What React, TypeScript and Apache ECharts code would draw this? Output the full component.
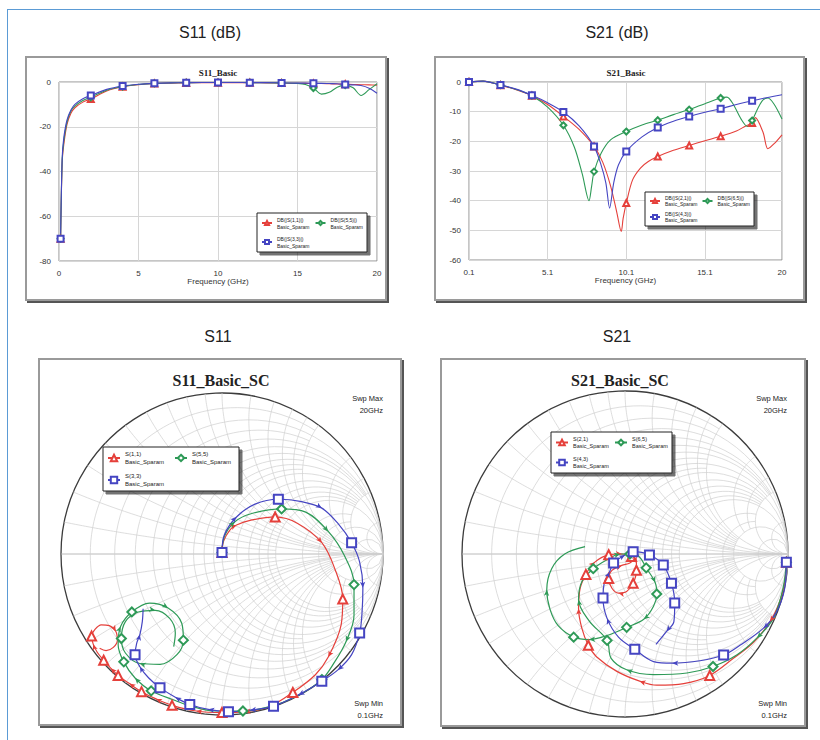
import { useEffect, useRef } from "react";
import * as echarts from "echarts";

const RED = "#e5403b";
const GREEN = "#2e9a57";
const BLUE = "#4545c2";
const SANS = "Liberation Sans, Arial, sans-serif";
const SERIF = "Liberation Serif, Times New Roman, serif";

// ---------- S11 (dB) ----------
const S11_FREQ = [0.1, 0.2, 0.3, 0.5, 0.75, 1, 1.5, 2, 3, 4, 5, 6, 7, 8, 9, 10, 11, 12, 13, 14, 15, 15.5, 16, 16.5, 17, 17.5, 18, 18.5, 19, 19.5, 20];
const S11_DB_RED = [-70, -36, -28, -19, -14, -11.5, -9, -7.6, -4, -2.1, -1.2, -0.7, -0.5, -0.4, -0.3, -0.3, -0.3, -0.3, -0.4, -0.5, -0.6, -0.6, -0.7, -0.7, -0.8, -0.9, -1.0, -1.1, -1.2, -1.3, -1.4];
const S11_DB_GREEN = [-70, -35, -26.5, -18, -13, -10.8, -8.3, -6.8, -3.7, -2.0, -1.1, -0.6, -0.4, -0.3, -0.2, -0.2, -0.2, -0.3, -0.3, -0.4, -0.6, -1.1, -2.7, -5.4, -4.6, -2.3, -1.4, -2.6, -6.0, -3.4, -0.8];
const S11_DB_BLUE = [-70, -34, -25, -17, -12.5, -10, -7.5, -6, -3.3, -1.8, -1.0, -0.6, -0.4, -0.3, -0.2, -0.2, -0.2, -0.3, -0.3, -0.4, -0.5, -0.5, -0.6, -0.6, -0.7, -0.8, -1.1, -1.3, -1.6, -2.8, -5.0];
const S11_MARKER_FREQ = [0.1, 2, 4, 6, 8, 10, 12, 14, 16, 18];

// ---------- S21 (dB) ----------
const S21_FREQ_RED = [0.1, 1, 2.1, 3.1, 4.1, 5.1, 6.1, 7.1, 8.05, 8.6, 9.1, 9.5, 9.78, 9.9, 10.1, 10.5, 11, 11.5, 12.1, 13.1, 14.1, 15.1, 16.1, 17.1, 17.7, 18.1, 18.3, 18.8, 19.1, 19.5, 20];
const S21_DB_RED = [0, 0.3, -1.1, -2.6, -4.6, -7.6, -11.6, -16, -21.7, -27, -35, -44, -50.4, -46, -40.8, -33, -29, -26.8, -25.1, -23, -21.4, -19.8, -18.3, -16.5, -14.8, -13.8, -12, -17, -22.5, -20.8, -17.8];
const S21_FREQ_GREEN = [0.1, 1, 2.1, 3.1, 4.1, 5.1, 6.1, 6.8, 7.3, 7.73, 7.9, 8.05, 8.5, 9.1, 10.1, 11.1, 12.1, 13.1, 14.1, 15.1, 16.1, 16.5, 16.9, 17.4, 17.8, 18.1, 18.5, 18.8, 19.1, 19.5, 20];
const S21_DB_GREEN = [0, 0.3, -1, -2.5, -4.6, -8.5, -14.6, -22, -31, -40, -35, -30.2, -24, -19.5, -16.7, -14.5, -12.9, -11, -9.3, -7.3, -5.4, -5.1, -7.5, -12.5, -15, -13, -8.5, -6, -5.4, -7.5, -12.5];
const S21_FREQ_BLUE = [0.1, 1, 2.1, 3.1, 4.1, 5.1, 6.1, 7.1, 8.05, 8.5, 8.8, 9.04, 9.3, 9.6, 10.1, 11.1, 12.1, 13.1, 14.1, 15.1, 16.1, 17.1, 18.1, 19.1, 20];
const S21_DB_BLUE = [0, 0.3, -1, -2.4, -4.5, -7, -10.1, -14.8, -21.7, -28, -34, -42.5, -34, -28, -23.4, -18.5, -15.3, -13.2, -11.6, -10.2, -9, -7.6, -6.3, -5.2, -4.3];
const S21_MARKER_FREQ = [0.1, 2.1, 4.1, 6.1, 8.05, 10.1, 12.1, 14.1, 16.1, 18.1];
const S21_X_TICKS = [0.1, 5.1, 10.1, 15.1, 20];

// ---------- S11 Smith (reflection coefficient, re / im) ----------
const SC11_RED = [[0, 0.01], [0.01, 0.08], [0.05, 0.15], [0.09, 0.18], [0.18, 0.21], [0.33, 0.23], [0.47, 0.19], [0.62, 0.07], [0.7, -0.09], [0.75, -0.28], [0.74, -0.44], [0.66, -0.64], [0.58, -0.75], [0.44, -0.86], [0.29, -0.95], [0.14, -0.98], [0, -0.985], [-0.16, -0.975], [-0.31, -0.94], [-0.41, -0.9], [-0.5, -0.855], [-0.575, -0.805], [-0.645, -0.755], [-0.69, -0.71], [-0.735, -0.66], [-0.775, -0.61], [-0.8, -0.56], [-0.81, -0.51], [-0.79, -0.47], [-0.75, -0.44], [-0.7, -0.445], [-0.66, -0.48], [-0.65, -0.535], [-0.675, -0.58], [-0.72, -0.6], [-0.76, -0.585]];
const SC11_RED_MARKS = [0, 5, 9, 13, 16, 18, 20, 22, 24, 27];
const SC11_GREEN = [[0, 0.01], [0.015, 0.11], [0.08, 0.2], [0.18, 0.25], [0.37, 0.28], [0.52, 0.26], [0.66, 0.14], [0.76, -0.01], [0.82, -0.19], [0.82, -0.38], [0.77, -0.545], [0.7, -0.67], [0.62, -0.78], [0.47, -0.88], [0.29, -0.95], [0.13, -0.975], [-0.04, -0.975], [-0.21, -0.94], [-0.29, -0.91], [-0.44, -0.85], [-0.54, -0.77], [-0.61, -0.67], [-0.645, -0.565], [-0.63, -0.45], [-0.56, -0.36], [-0.45, -0.305], [-0.335, -0.335], [-0.25, -0.43], [-0.24, -0.535], [-0.28, -0.625], [-0.385, -0.685], [-0.51, -0.68], [-0.6, -0.615], [-0.625, -0.525], [-0.6, -0.42], [-0.52, -0.36], [-0.415, -0.35], [-0.325, -0.4], [-0.29, -0.49], [-0.3, -0.575]];
const SC11_GREEN_MARKS = [0, 4, 8, 12, 15, 19, 21, 24, 28, 33];
const SC11_BLUE = [[0, 0.01], [0.015, 0.12], [0.09, 0.23], [0.205, 0.31], [0.35, 0.34], [0.495, 0.325], [0.62, 0.285], [0.72, 0.19], [0.805, 0.07], [0.855, -0.05], [0.875, -0.21], [0.87, -0.36], [0.855, -0.49], [0.805, -0.625], [0.72, -0.72], [0.62, -0.79], [0.475, -0.875], [0.32, -0.945], [0.175, -0.97], [0.04, -0.98], [-0.085, -0.965], [-0.2, -0.935], [-0.29, -0.89], [-0.385, -0.83], [-0.455, -0.77], [-0.51, -0.7], [-0.54, -0.625], [-0.53, -0.555], [-0.51, -0.5], [-0.495, -0.42], [-0.49, -0.34]];
const SC11_BLUE_MARKS = [0, 4, 8, 12, 15, 17, 19, 21, 23, 26];

// ---------- S21 Smith ----------
const SC21_RED = [[0.99, -0.05], [0.98, -0.17], [0.95, -0.29], [0.89, -0.415], [0.79, -0.54], [0.665, -0.64], [0.52, -0.745], [0.36, -0.795], [0.195, -0.805], [0.09, -0.78], [-0.05, -0.72], [-0.175, -0.63], [-0.225, -0.56], [-0.265, -0.455], [-0.285, -0.335], [-0.275, -0.21], [-0.24, -0.125], [-0.185, -0.05], [-0.1, -0.005], [-0.02, 0], [0.04, -0.015], [0.07, -0.055], [0.07, -0.1], [0.05, -0.18], [0.01, -0.23], [-0.04, -0.24], [-0.08, -0.21], [-0.1, -0.15], [-0.08, -0.1], [-0.02, -0.07], [0.03, -0.055], [0.06, -0.03]];
const SC21_RED_MARKS = [0, 6, 12, 16, 18, 20, 22, 23, 27];
const SC21_GREEN = [[0.99, -0.05], [0.97, -0.21], [0.91, -0.395], [0.81, -0.515], [0.685, -0.62], [0.54, -0.69], [0.38, -0.73], [0.175, -0.74], [0.01, -0.71], [-0.085, -0.64], [-0.11, -0.53], [-0.22, -0.41], [-0.285, -0.28], [-0.265, -0.17], [-0.195, -0.09], [-0.11, -0.035], [-0.03, 0], [0.03, 0], [0.09, -0.02], [0.13, -0.085], [0.185, -0.175], [0.195, -0.245], [0.175, -0.32], [0.115, -0.4], [0.01, -0.45], [-0.11, -0.5], [-0.22, -0.525], [-0.315, -0.51], [-0.41, -0.44], [-0.46, -0.34], [-0.48, -0.22], [-0.45, -0.09], [-0.37, 0], [-0.245, 0.045]];
const SC21_GREEN_MARKS = [0, 5, 10, 14, 17, 19, 21, 24, 27];
const SC21_BLUE = [[0.99, -0.05], [0.98, -0.21], [0.93, -0.355], [0.85, -0.455], [0.705, -0.56], [0.605, -0.62], [0.46, -0.655], [0.29, -0.67], [0.175, -0.66], [0.06, -0.585], [-0.04, -0.51], [-0.11, -0.395], [-0.135, -0.27], [-0.125, -0.17], [-0.095, -0.11], [-0.07, -0.055], [0, -0.006], [0.05, 0.014], [0.15, -0.006], [0.235, -0.068], [0.285, -0.18], [0.305, -0.3], [0.3, -0.415], [0.255, -0.475], [0.19, -0.555]];
const SC21_BLUE_MARKS = [0, 5, 9, 12, 15, 17, 18, 19, 20, 21];

// Smith chart grid: [normalized value, extent limit]
const SMITH_R = [[0.1, 2], [0.2, 1e9], [0.3, 2], [0.4, 5], [0.5, 1e9], [0.6, 5], [0.7, 2], [0.8, 5], [0.9, 2], [1, 1e9], [1.2, 5], [1.4, 5], [1.6, 5], [1.8, 5], [2, 1e9], [3, 5], [4, 5], [5, 1e9], [10, 1e9]];
const SMITH_X = [[0.1, 2], [0.2, 1e9], [0.3, 2], [0.4, 5], [0.5, 1e9], [0.6, 5], [0.7, 2], [0.8, 5], [0.9, 2], [1, 1e9], [1.2, 5], [1.4, 5], [1.6, 5], [1.8, 5], [2, 1e9], [3, 5], [4, 5], [5, 1e9], [10, 1e9]];

const PANELS = [
  { left: 25, top: 56, width: 362, height: 245 },
  { left: 434, top: 56, width: 371, height: 245 },
  { left: 38, top: 358, width: 364, height: 368 },
  { left: 440, top: 358, width: 366, height: 369 },
];

function gamma(r: number, x: number) {
  const den = (r + 1) * (r + 1) + x * x;
  return [(r * r + x * x - 1) / den, (2 * x) / den];
}

function smithGridData() {
  const d: number[][] = [[2, 0, 0], [3, 0, 0]];
  SMITH_R.forEach(([v, lim]) => d.push([0, v, lim]));
  SMITH_X.forEach(([v, lim]) => {
    d.push([1, v, lim]);
    d.push([1, -v, lim]);
  });
  return d;
}

function smithGridSeries(gi: number) {
  return {
    type: "custom",
    coordinateSystem: "cartesian2d",
    xAxisIndex: gi,
    yAxisIndex: gi,
    silent: true,
    z: 1,
    data: smithGridData(),
    renderItem: (_p: any, api: any) => {
      const kind = api.value(0);
      const v = api.value(1);
      const lim = api.value(2);
      const c = api.coord([0, 0]);
      const e = api.coord([1, 0]);
      const R = e[0] - c[0];
      if (kind === 2) {
        return { type: "circle", shape: { cx: c[0], cy: c[1], r: R }, style: { fill: "none", stroke: "#3c3c3c", lineWidth: 1.3 } };
      }
      if (kind === 3) {
        return { type: "line", shape: { x1: c[0] - R, y1: c[1], x2: c[0] + R, y2: c[1] }, style: { stroke: "#a8a8a8", lineWidth: 0.8 } };
      }
      const pts: number[][] = [];
      const N = 90;
      const phiMax = Math.atan(lim);
      for (let i = 0; i <= N; i++) {
        let g: number[];
        if (kind === 0) {
          const phi = -phiMax + (2 * phiMax * i) / N;
          g = gamma(v, Math.tan(phi));
        } else {
          const phi = (phiMax * i) / N;
          g = gamma(Math.tan(phi), v);
        }
        pts.push(api.coord(g));
      }
      return { type: "polyline", shape: { points: pts }, style: { fill: "none", stroke: "#cfcfcf", lineWidth: 0.7 } };
    },
  };
}

function dbSeries(name: string, freq: number[], db: number[], marks: number[], color: string, symbol: string, gi: number) {
  return {
    type: "line",
    name,
    xAxisIndex: gi,
    yAxisIndex: gi,
    data: freq.map((f, i) => (marks.includes(f) ? { value: [f, db[i]] } : { value: [f, db[i]], symbol: "none" })),
    symbol,
    symbolSize: 6,
    showSymbol: true,
    smooth: 0.3,
    clip: false,
    lineStyle: { color, width: 1.1 },
    itemStyle: { color, borderWidth: 1 },
    z: 3,
  };
}

// small direction arrows half-way between markers
function arrowIndices(marks: number[], n: number) {
  const out: number[] = [];
  const all = [...marks, n - 1];
  for (let k = 0; k < all.length - 1; k++) {
    const m = Math.round((all[k] + all[k + 1]) / 2);
    if (!marks.includes(m) && m > 0 && m < n - 1) out.push(m);
  }
  return out;
}

function smithSeries(name: string, pts: number[][], marks: number[], color: string, symbol: string, gi: number) {
  const arrows = arrowIndices(marks, pts.length);
  return {
    type: "line",
    name,
    xAxisIndex: gi,
    yAxisIndex: gi,
    data: pts.map((p, i) => {
      if (marks.includes(i)) return { value: p };
      if (arrows.includes(i)) {
        const a = pts[i - 1];
        const b = pts[i + 1];
        const rot = (Math.atan2(-(b[0] - a[0]), b[1] - a[1]) * 180) / Math.PI;
        return { value: p, symbol: "arrow", symbolSize: [4, 6], symbolRotate: rot, itemStyle: { color, borderWidth: 0 } };
      }
      return { value: p, symbol: "none" };
    }),
    symbol,
    symbolSize: 9,
    showSymbol: true,
    smooth: 0.35,
    clip: false,
    lineStyle: { color, width: 1.2 },
    itemStyle: { color, borderWidth: 1.1 },
    z: 3,
  };
}

function legendOf(names: string[], left: number, top: number, fs: number, lh: number, tw: number, gap: number, iw: number, ih: number) {
  return {
    data: names,
    left,
    top,
    width: 2 * (iw + 5 + tw) + gap + 16,
    orient: "horizontal",
    itemGap: gap,
    itemWidth: iw,
    itemHeight: ih,
    padding: [3, 4, 3, 4],
    backgroundColor: "#fff",
    borderColor: "#222",
    borderWidth: 1,
    shadowColor: "rgba(0,0,0,0.55)",
    shadowOffsetX: 3,
    shadowOffsetY: 3,
    shadowBlur: 0,
    selectedMode: false,
    formatter: (n: string) => n + "\nBasic_Sparam",
    textStyle: { fontSize: fs, lineHeight: lh, width: tw, overflow: "none", color: "#222", fontFamily: SANS },
  };
}

function dbAxes(gi: number) {
  return {
    gridIndex: gi,
    type: "value",
    axisLine: { show: false },
    axisTick: { show: false },
    splitLine: { show: true, lineStyle: { color: "#d6d6d6", width: 1 } },
    axisLabel: { fontSize: 8, color: "#333", fontFamily: SANS },
  };
}

function text(t: string, x: number, y: number, size: number, opts: any = {}) {
  return {
    type: "text",
    x,
    y,
    z: 20,
    style: {
      text: t,
      fontSize: size,
      fontFamily: opts.family || SANS,
      fontWeight: opts.weight || "normal",
      fill: opts.fill || "#222",
      align: opts.align || "center",
      verticalAlign: "middle",
    },
  };
}

function buildOption() {
  const xAxis: any[] = [
    { ...dbAxes(0), min: 0, max: 20, interval: 5, name: "Frequency (GHz)", nameLocation: "middle", nameGap: 15, nameTextStyle: { fontSize: 8, color: "#333", fontFamily: SANS }, axisLabel: { fontSize: 8, color: "#333", fontFamily: SANS, margin: 8 } },
    {
      ...dbAxes(1),
      min: 0.1,
      max: 20,
      axisTick: { show: false, customValues: S21_X_TICKS },
      axisLabel: { fontSize: 8, color: "#333", fontFamily: SANS, margin: 8, customValues: S21_X_TICKS, formatter: (v: number) => String(Math.round(v * 10) / 10) },
      name: "Frequency (GHz)",
      nameLocation: "middle",
      nameGap: 15,
      nameTextStyle: { fontSize: 8, color: "#333", fontFamily: SANS },
    },
    { gridIndex: 2, type: "value", min: -1, max: 1, show: false },
    { gridIndex: 3, type: "value", min: -1, max: 1, show: false },
  ];
  const yAxis: any[] = [
    { ...dbAxes(0), min: -80, max: 0, interval: 20 },
    { ...dbAxes(1), min: -60, max: 0, interval: 10 },
    { gridIndex: 2, type: "value", min: -1, max: 1, show: false },
    { gridIndex: 3, type: "value", min: -1, max: 1, show: false },
  ];
  const grid = [
    { left: 59, top: 82, width: 318, height: 179, show: true, borderColor: "#8c8c8c", borderWidth: 1, containLabel: false },
    { left: 469, top: 82, width: 313, height: 178, show: true, borderColor: "#8c8c8c", borderWidth: 1, containLabel: false },
    { left: 61, top: 393, width: 322, height: 322, containLabel: false },
    { left: 462, top: 391, width: 326, height: 326, containLabel: false },
  ];
  const series: any[] = [
    dbSeries("DB(|S(1,1)|)", S11_FREQ, S11_DB_RED, S11_MARKER_FREQ, RED, "emptyTriangle", 0),
    dbSeries("DB(|S(5,5)|)", S11_FREQ, S11_DB_GREEN, S11_MARKER_FREQ, GREEN, "emptyDiamond", 0),
    dbSeries("DB(|S(3,3)|)", S11_FREQ, S11_DB_BLUE, S11_MARKER_FREQ, BLUE, "emptyRect", 0),
    dbSeries("DB(|S(2,1)|)", S21_FREQ_RED, S21_DB_RED, S21_MARKER_FREQ, RED, "emptyTriangle", 1),
    dbSeries("DB(|S(6,5)|)", S21_FREQ_GREEN, S21_DB_GREEN, S21_MARKER_FREQ, GREEN, "emptyDiamond", 1),
    dbSeries("DB(|S(4,3)|)", S21_FREQ_BLUE, S21_DB_BLUE, S21_MARKER_FREQ, BLUE, "emptyRect", 1),
    smithGridSeries(2),
    smithGridSeries(3),
    smithSeries("S(1,1)", SC11_RED, SC11_RED_MARKS, RED, "emptyTriangle", 2),
    smithSeries("S(5,5)", SC11_GREEN, SC11_GREEN_MARKS, GREEN, "emptyDiamond", 2),
    smithSeries("S(3,3)", SC11_BLUE, SC11_BLUE_MARKS, BLUE, "emptyRect", 2),
    smithSeries("S(2,1)", SC21_RED, SC21_RED_MARKS, RED, "emptyTriangle", 3),
    smithSeries("S(6,5)", SC21_GREEN, SC21_GREEN_MARKS, GREEN, "emptyDiamond", 3),
    smithSeries("S(4,3)", SC21_BLUE, SC21_BLUE_MARKS, BLUE, "emptyRect", 3),
  ];
  const legend = [
    legendOf(["DB(|S(1,1)|)", "DB(|S(5,5)|)", "DB(|S(3,3)|)"], 257, 213, 5, 7, 32, 5, 10, 5),
    legendOf(["DB(|S(2,1)|)", "DB(|S(6,5)|)", "DB(|S(4,3)|)"], 645, 192, 5, 6, 32, 4, 10, 5),
    legendOf(["S(1,1)", "S(5,5)", "S(3,3)"], 103, 447, 6, 8, 43, 6, 12, 8),
    legendOf(["S(2,1)", "S(6,5)", "S(4,3)"], 551, 432, 5.5, 7.5, 36, 5, 12, 7),
  ];
  const graphic = [
    text("S11 (dB)", 210, 32, 16),
    text("S21 (dB)", 617, 32, 16),
    text("S11", 218, 336, 16),
    text("S21", 617, 336, 16),
    text("S11_Basic", 218, 73, 9, { family: SERIF, weight: "bold" }),
    text("S21_Basic", 626, 73, 9, { family: SERIF, weight: "bold" }),
    text("S11_Basic_SC", 221, 380, 16, { family: SERIF, weight: "bold" }),
    text("S21_Basic_SC", 620, 380, 16, { family: SERIF, weight: "bold" }),
    text("Swp Max", 383, 398, 7.5, { align: "right" }),
    text("20GHz", 383, 410, 7.5, { align: "right" }),
    text("Swp Min", 383, 703, 7.5, { align: "right" }),
    text("0.1GHz", 383, 715, 7.5, { align: "right" }),
    text("Swp Max", 787, 398, 7.5, { align: "right" }),
    text("20GHz", 787, 410, 7.5, { align: "right" }),
    text("Swp Min", 787, 703, 7.5, { align: "right" }),
    text("0.1GHz", 787, 715, 7.5, { align: "right" }),
  ];
  return { animation: false, grid, xAxis, yAxis, series, legend, graphic };
}

export default function App() {
  const ref = useRef<HTMLDivElement>(null);
  useEffect(() => {
    const chart = echarts.init(ref.current!, null, { renderer: "svg" });
    chart.setOption(buildOption() as any);
    return () => chart.dispose();
  }, []);
  return (
    <div style={{ position: "fixed", left: 0, top: 0, width: 820, height: 740, overflow: "hidden", background: "#fff" }}>
      <div style={{ position: "absolute", left: 7, top: 9, width: 900, height: 900, border: "1.5px solid #5b9bd5" }} />
      {PANELS.map((p, i) => (
        <div
          key={i}
          style={{
            position: "absolute",
            left: p.left,
            top: p.top,
            width: p.width,
            height: p.height,
            boxSizing: "border-box",
            border: "2px solid #9a9a9a",
            boxShadow: "2px 2px 0 #555",
            background: "#fff",
          }}
        />
      ))}
      <div ref={ref} style={{ position: "absolute", left: 0, top: 0, width: 820, height: 740 }} />
    </div>
  );
}
